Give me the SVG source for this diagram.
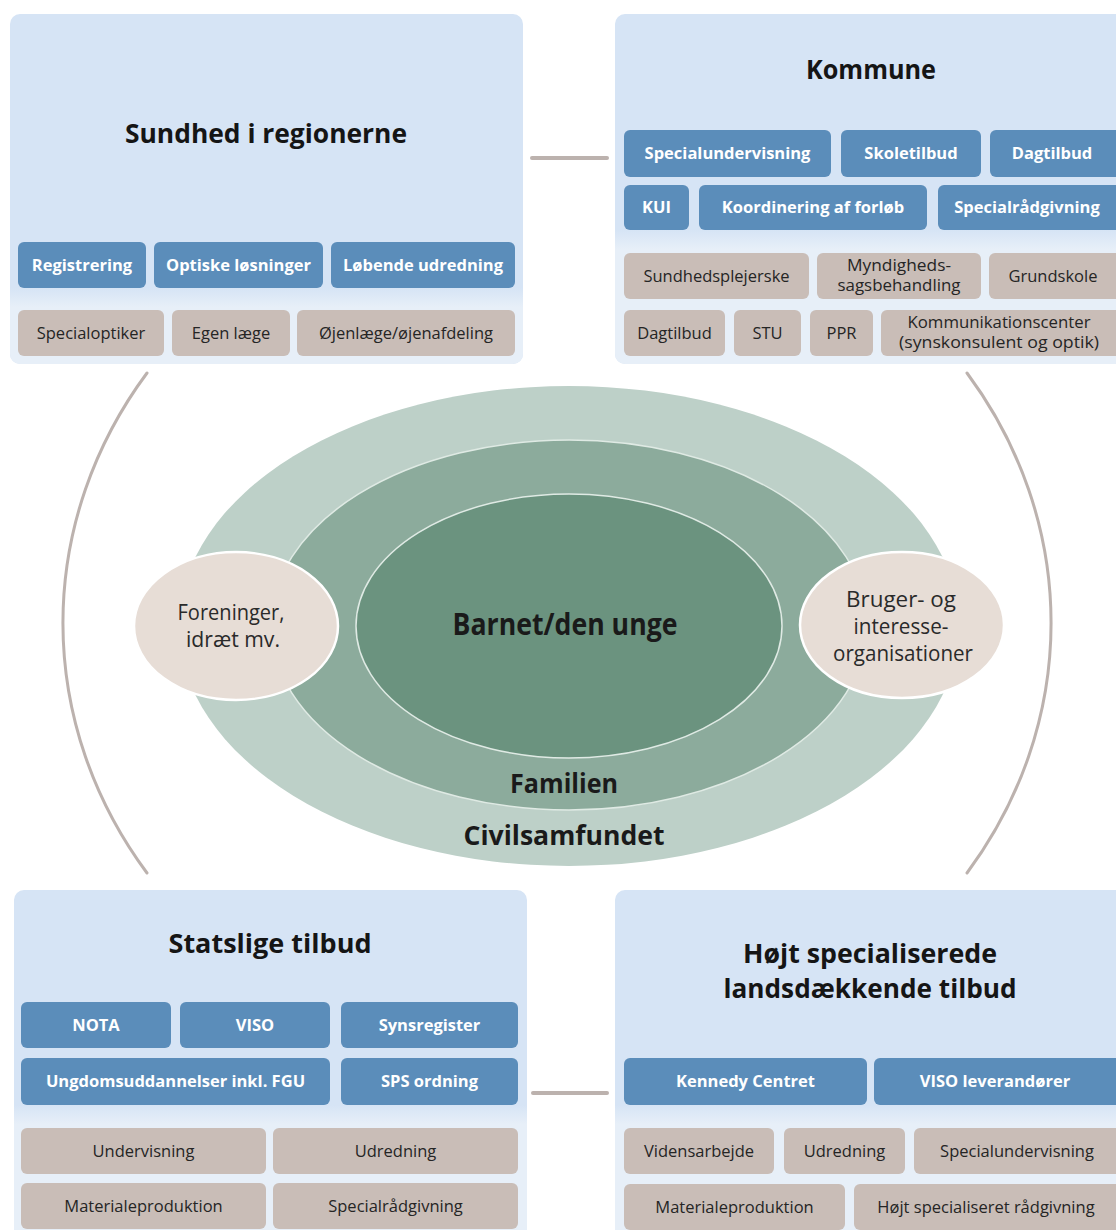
<svg xmlns="http://www.w3.org/2000/svg" width="1116" height="1230" viewBox="0 0 1116 1230">
<style>
text{font-family:"Open Sans","Noto Sans","Liberation Sans",sans-serif;text-anchor:middle}
.panel{fill:#d6e4f5}
.lower{fill:#e7eff8}
.fade{fill:url(#fade)}
.b{fill:#5b8dba}
.g{fill:#c9bdb7}
.t{font-size:27px;font-weight:700;fill:#151515}
.bl{font-size:16.5px;font-weight:700;fill:#ffffff}
.br{font-size:16.5px;font-weight:400;fill:#252525}
.br2{font-size:15.5px;font-weight:400;fill:#252525}
.cn{fill:none;stroke:#bcb2ae;stroke-linecap:round}
.ct{font-weight:700;fill:#1a1a1a}
.st{font-size:21px;font-weight:400;fill:#2a2a2a}
.sc{fill:#e7ddd6;stroke:#ffffff;stroke-width:2.5}
</style>
<defs>
<linearGradient id="fade" x1="0" y1="0" x2="0" y2="1">
<stop offset="0" stop-color="#d6e4f5"/>
<stop offset="0.6" stop-color="#e7eff8"/>
<stop offset="1" stop-color="#e7eff8"/>
</linearGradient>
</defs>
<rect width="1116" height="1230" fill="#ffffff"/>

<g id="connectors">
<path class="cn" stroke-width="4" d="M532,158 L607,158"/>
<path class="cn" stroke-width="4" d="M533,1093 L607,1093"/>
<path class="cn" stroke-width="3" d="M147,373 A494,448 0 0 0 147,873"/>
<path class="cn" stroke-width="3" d="M967,373 A494,448 0 0 1 967,873"/>
</g>

<g id="sundhed">
<rect class="panel" x="10" y="14" width="513" height="350" rx="10"/>
<rect class="lower" x="10" y="300" width="513" height="64" rx="10"/>
<rect class="fade" x="10" y="288" width="513" height="32"/>
<text class="t" x="266" y="143" textLength="282" lengthAdjust="spacingAndGlyphs">Sundhed i regionerne</text>
<rect class="b" x="18" y="242" width="128" height="46" rx="6"/>
<text class="bl" x="82" y="271">Registrering</text>
<rect class="b" x="154" y="242" width="169" height="46" rx="6"/>
<text class="bl" x="238.5" y="271">Optiske løsninger</text>
<rect class="b" x="331" y="242" width="184" height="46" rx="6"/>
<text class="bl" x="423" y="271">Løbende udredning</text>
<rect class="g" x="18" y="310" width="146" height="46" rx="6"/>
<text class="br" x="91" y="339">Specialoptiker</text>
<rect class="g" x="172" y="310" width="118" height="46" rx="6"/>
<text class="br" x="231" y="339">Egen læge</text>
<rect class="g" x="297" y="310" width="218" height="46" rx="6"/>
<text class="br" x="406" y="339">Øjenlæge/øjenafdeling</text>
</g>

<g id="kommune">
<rect class="panel" x="615" y="14" width="530" height="350" rx="10"/>
<rect class="lower" x="615" y="245" width="530" height="119" rx="10"/>
<rect class="fade" x="615" y="230" width="530" height="32"/>
<text class="t" x="871" y="79" textLength="130" lengthAdjust="spacingAndGlyphs">Kommune</text>
<rect class="b" x="624" y="130" width="207" height="47" rx="6"/>
<text class="bl" x="727.5" y="159">Specialundervisning</text>
<rect class="b" x="841" y="130" width="140" height="47" rx="6"/>
<text class="bl" x="911" y="159">Skoletilbud</text>
<rect class="b" x="990" y="130" width="135" height="47" rx="6"/>
<text class="bl" x="1052" y="159">Dagtilbud</text>
<rect class="b" x="624" y="185" width="65" height="45" rx="6"/>
<text class="bl" x="656.5" y="213">KUI</text>
<rect class="b" x="699" y="185" width="228" height="45" rx="6"/>
<text class="bl" x="813" y="213">Koordinering af forløb</text>
<rect class="b" x="938" y="185" width="187" height="45" rx="6"/>
<text class="bl" x="1027" y="213">Specialrådgivning</text>
<rect class="g" x="624" y="253" width="185" height="46" rx="6"/>
<text class="br" x="716.5" y="282">Sundhedsplejerske</text>
<rect class="g" x="817" y="253" width="164" height="46" rx="6"/>
<text class="br2" x="899" y="271" textLength="104" lengthAdjust="spacingAndGlyphs">Myndigheds-</text>
<text class="br2" x="899" y="291" textLength="123" lengthAdjust="spacingAndGlyphs">sagsbehandling</text>
<rect class="g" x="989" y="253" width="136" height="46" rx="6"/>
<text class="br" x="1053" y="282">Grundskole</text>
<rect class="g" x="624" y="310" width="101" height="46" rx="6"/>
<text class="br" x="674.5" y="339">Dagtilbud</text>
<rect class="g" x="734" y="310" width="67" height="46" rx="6"/>
<text class="br" x="767.5" y="339">STU</text>
<rect class="g" x="810" y="310" width="63" height="46" rx="6"/>
<text class="br" x="841.5" y="339">PPR</text>
<rect class="g" x="881" y="310" width="244" height="46" rx="6"/>
<text class="br2" x="999" y="328" textLength="183" lengthAdjust="spacingAndGlyphs">Kommunikationscenter</text>
<text class="br2" x="999" y="348" textLength="200" lengthAdjust="spacingAndGlyphs">(synskonsulent og optik)</text>
</g>

<g id="centrum">
<ellipse cx="569" cy="626" rx="390" ry="240" fill="#bdd0c8"/>
<ellipse cx="569" cy="625" rx="298" ry="185" fill="#8cab9c" stroke="#dfeae4" stroke-width="1.5"/>
<ellipse cx="569" cy="626" rx="213" ry="132" fill="#6b937f" stroke="#dfeae4" stroke-width="1.5"/>
<text class="ct" x="565" y="635" font-size="30" textLength="225" lengthAdjust="spacingAndGlyphs">Barnet/den unge</text>
<text class="ct" x="564" y="793" font-size="26" textLength="108" lengthAdjust="spacingAndGlyphs">Familien</text>
<text class="ct" x="564" y="845" font-size="26" textLength="201" lengthAdjust="spacingAndGlyphs">Civilsamfundet</text>
</g>

<g id="foreninger">
<ellipse class="sc" cx="236" cy="626" rx="102" ry="74"/>
<text class="st" x="231" y="620" textLength="107" lengthAdjust="spacingAndGlyphs">Foreninger,</text>
<text class="st" x="233" y="647" textLength="94" lengthAdjust="spacingAndGlyphs">idræt mv.</text>
</g>

<g id="bruger">
<ellipse class="sc" cx="902" cy="625" rx="102" ry="73"/>
<text class="st" x="901" y="607" textLength="110" lengthAdjust="spacingAndGlyphs">Bruger- og</text>
<text class="st" x="901" y="634" textLength="95" lengthAdjust="spacingAndGlyphs">interesse-</text>
<text class="st" x="903" y="661" textLength="140" lengthAdjust="spacingAndGlyphs">organisationer</text>
</g>

<g id="statslige">
<rect class="panel" x="14" y="890" width="513" height="360" rx="10"/>
<rect class="lower" x="14" y="1120" width="513" height="130" rx="10"/>
<rect class="fade" x="14" y="1105" width="513" height="32"/>
<text class="t" x="270" y="953" textLength="203" lengthAdjust="spacingAndGlyphs">Statslige tilbud</text>
<rect class="b" x="21" y="1002" width="150" height="46" rx="6"/>
<text class="bl" x="96" y="1031">NOTA</text>
<rect class="b" x="180" y="1002" width="150" height="46" rx="6"/>
<text class="bl" x="255" y="1031">VISO</text>
<rect class="b" x="341" y="1002" width="177" height="46" rx="6"/>
<text class="bl" x="429.5" y="1031">Synsregister</text>
<rect class="b" x="21" y="1058" width="309" height="47" rx="6"/>
<text class="bl" x="175.5" y="1087">Ungdomsuddannelser inkl. FGU</text>
<rect class="b" x="341" y="1058" width="177" height="47" rx="6"/>
<text class="bl" x="429.5" y="1087">SPS ordning</text>
<rect class="g" x="21" y="1128" width="245" height="46" rx="6"/>
<text class="br" x="143.5" y="1157">Undervisning</text>
<rect class="g" x="273" y="1128" width="245" height="46" rx="6"/>
<text class="br" x="395.5" y="1157">Udredning</text>
<rect class="g" x="21" y="1183" width="245" height="46" rx="6"/>
<text class="br" x="143.5" y="1212">Materialeproduktion</text>
<rect class="g" x="273" y="1183" width="245" height="46" rx="6"/>
<text class="br" x="395.5" y="1212">Specialrådgivning</text>
</g>

<g id="hoejt">
<rect class="panel" x="615" y="890" width="530" height="360" rx="10"/>
<rect class="lower" x="615" y="1120" width="530" height="130" rx="10"/>
<rect class="fade" x="615" y="1105" width="530" height="32"/>
<text class="t" x="870" y="963" textLength="254" lengthAdjust="spacingAndGlyphs">Højt specialiserede</text>
<text class="t" x="870" y="998" textLength="293" lengthAdjust="spacingAndGlyphs">landsdækkende tilbud</text>
<rect class="b" x="624" y="1058" width="243" height="47" rx="6"/>
<text class="bl" x="745.5" y="1087">Kennedy Centret</text>
<rect class="b" x="874" y="1058" width="251" height="47" rx="6"/>
<text class="bl" x="995" y="1087">VISO leverandører</text>
<rect class="g" x="624" y="1128" width="150" height="46" rx="6"/>
<text class="br" x="699" y="1157">Vidensarbejde</text>
<rect class="g" x="784" y="1128" width="121" height="46" rx="6"/>
<text class="br" x="844.5" y="1157">Udredning</text>
<rect class="g" x="914" y="1128" width="211" height="46" rx="6"/>
<text class="br" x="1017" y="1157">Specialundervisning</text>
<rect class="g" x="624" y="1184" width="221" height="46" rx="6"/>
<text class="br" x="734.5" y="1213">Materialeproduktion</text>
<rect class="g" x="854" y="1184" width="271" height="46" rx="6"/>
<text class="br" x="986" y="1213">Højt specialiseret rådgivning</text>
</g>
</svg>
